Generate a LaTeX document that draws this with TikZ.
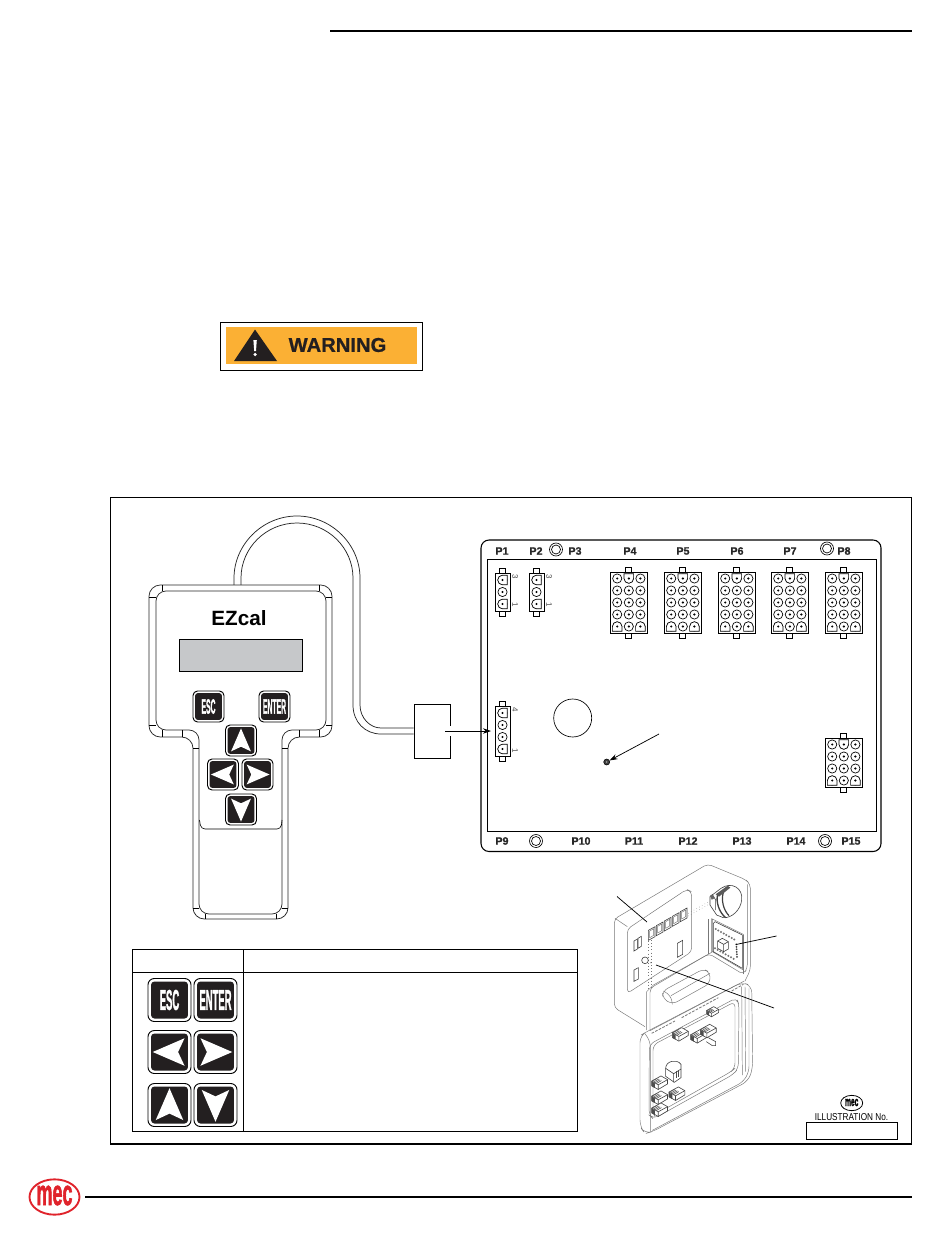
\documentclass[tikz,border=0pt]{standalone}
\usepackage{fontspec}
\usepackage{graphicx}
\setmainfont{Liberation Sans}
\newfontfamily\heavyfont[BoldFeatures={FakeBold=2}]{Liberation Sans}
\newfontfamily\semifont[BoldFeatures={FakeBold=.8}]{Liberation Sans}
\usetikzlibrary{arrows.meta,calc,shapes.geometric}
\definecolor{mecred}{HTML}{E0232B}
\definecolor{warnorange}{HTML}{FBB034}
\definecolor{warnblack}{HTML}{231F20}
\definecolor{lcdgray}{HTML}{C6C8CA}
\definecolor{isogray}{HTML}{777777}
\tikzset{
  rule/.style={line width=1.5pt,black},
  frame/.style={line width=1pt,black},
  body/.style={line width=.55pt,black!85},
  thin line/.style={line width=.45pt,black},
  pinline/.style={line width=.5pt,black},
  iso/.style={line width=.35pt,isogray},
  isod/.style={line width=.45pt,black!75},
  lead/.style={line width=.55pt,black},
  arrowlead/.style={line width=.55pt,black,-{Stealth[length=6pt,width=4pt]}},
  plabel/.style={font=\fontsize{8}{8}\selectfont\semifont\bfseries,text=black!85,inner sep=0pt},
  pinnum/.style={font=\fontsize{6}{6}\selectfont,inner sep=0pt,rotate=-90,text=black!70},
  btnlabel/.style={inner sep=0pt,text=white}
}
\newcommand{\pinR}[2]{\draw[pinline,fill=white] (#1,#2) circle[radius=4.6];\fill (#1,#2) circle[radius=1.2];}
% D-shaped pin: #3 rotation
\newcommand{\pinD}[3]{\begin{scope}[shift={(#1,#2)},rotate=#3]
  \draw[pinline,fill=white] (-4.8,0) .. controls (-4.8,-2.6) and (-2.6,-4.8) .. (0,-4.8) .. controls (2.6,-4.8) and (4.8,-2.6) .. (4.8,0) -- (4.8,4.8) -- (-4.8,4.8) -- cycle;
  \end{scope}\fill (#1,#2) circle[radius=1.2];}
% 3-column connector: left x, top y, rows
\newcommand{\conTri}[3]{
  \pgfmathsetmacro{\conB}{#2+12*#3+1}
  \pgfmathsetmacro{\conC}{#1+18.8}
  \draw[pinline,fill=white] (\conC-3,#2-5) rectangle (\conC+3,#2);
  \draw[pinline,fill=white] (\conC-3,\conB) rectangle (\conC+3,\conB+5);
  \draw[line width=.65pt,fill=white] (#1,#2) rectangle (#1+37.6,\conB);
  \pgfmathtruncatemacro{\conN}{#3-1}
  \foreach \r in {0,...,\conN}{\foreach \c in {0,1,2}{
    \pgfmathsetmacro{\px}{#1+7.2+11.6*\c}\pgfmathsetmacro{\py}{#2+6.5+12*\r}
    \pinR{\px}{\py}}}
  \pinD{\conC}{#2+6.5}{180}
  \pgfmathsetmacro{\py}{#2+6.5+12*\conN}
  \pinD{#1+7.2}{\py}{0}\pinD{#1+30.4}{\py}{0}
}
% 1-column connector: left x, top y, rows
\newcommand{\conOne}[3]{
  \pgfmathsetmacro{\conB}{#2+12*#3+2}
  \draw[pinline,fill=white] (#1+4.5,#2-5) rectangle (#1+10.5,#2);
  \draw[pinline,fill=white] (#1+4.5,\conB) rectangle (#1+10.5,\conB+5);
  \draw[line width=.65pt,fill=white] (#1,#2) rectangle (#1+15,\conB);
  \pgfmathtruncatemacro{\conN}{#3-1}
  \foreach \r in {0,...,\conN}{\pgfmathsetmacro{\py}{#2+7+12*\r}\pinR{#1+7.5}{\py}}
  \pinD{#1+7.5}{#2+7}{90}
  \pgfmathsetmacro{\py}{#2+7+12*\conN}
  \pinD{#1+7.5}{\py}{90}
}
% keypad button: cx,cy,size,name,content
\newcommand{\kbtn}[5]{\begin{scope}[shift={(#1,#2)},scale=#3]
  \draw[line width=.7pt,fill=white,rounded corners=#3*.11pt] (-.5,-.5) rectangle (.5,.5);
  \fill[warnblack,rounded corners=#3*.06pt] (-.43,-.43) rectangle (.43,.43);
  #5
  \end{scope}}
\newcommand{\ktext}[3]{\pgfmathsetmacro{\fs}{#1*.5}\node[btnlabel] (#2) at (0,0) {\scalebox{.33}[1]{\fontsize{\fs}{\fs}\selectfont\heavyfont\bfseries #3}};}
\newcommand{\aU}{\fill[white] (0,-.39) -- (.32,.35) -- (0,.2) -- (-.32,.35) -- cycle;}
\newcommand{\aD}{\fill[white] (0,.39) -- (.32,-.35) -- (0,-.2) -- (-.32,-.35) -- cycle;}
\newcommand{\aL}{\fill[white] (-.39,0) -- (.35,.32) -- (.2,0) -- (.35,-.32) -- cycle;}
\newcommand{\aR}{\fill[white] (.39,0) -- (-.35,.32) -- (-.2,0) -- (-.35,-.32) -- cycle;}
% small hatched component in the enclosure: x,y (zoom coords)
\newcommand{\isoconn}[2]{\begin{scope}[shift={(#1,#2)},scale=1.4]
  \draw[isod,fill=white] (0,8) -- (20,-3) -- (34,5) -- (34,14) -- (14,26) -- (0,18) -- cycle;
  \draw[isod] (14,16) -- (34,5) (14,16) -- (14,26) (0,8) -- (14,16);
  \fill[black!70] (0,9) -- (7,13) -- (7,23) -- (0,19) -- cycle;
  \foreach \k in {0,3,6,9}{\draw[line width=.45pt,black!65] (\k,9+\k*.55) -- (\k+12,2+\k*.55);}
  \end{scope}}
\begin{document}
\begin{tikzpicture}[x=.75pt,y=-.75pt]
\useasboundingbox (0,0) rectangle (950,1241);
\fill[white] (0,0) rectangle (950,1241);
% page rules
\coordinate (ruleA) at (330,31); \coordinate (ruleB) at (912,31);
\draw[rule] (ruleA) -- (ruleB);
\coordinate (ruleC) at (85,1197); \coordinate (ruleD) at (912,1197);
\draw[line width=1.1pt] (ruleC) -- (ruleD);
% warning
\draw[line width=.55pt,fill=white] (220,322) rectangle (422,370);
\fill[warnorange] (226,327) rectangle (417,364);
\fill[warnblack] (234,361) -- (255,329.5) -- (277,361) -- cycle;
\fill[white] (253.4,340) -- (256.8,340) -- (256,351) -- (254.2,351) -- cycle;
\fill[white] (255.1,354.5) circle[radius=1.8];
\node[inner sep=0pt,text=warnblack] (warn) at (337.5,345) {\scalebox{1.01}[1]{\fontsize{15}{15}\selectfont\semifont\bfseries WARNING}};
% frame
\draw[frame] (110.5,497.5) rectangle (911.5,1144);
% cable
\coordinate (cabU) at (381,728); \coordinate (cabL) at (381,734);
\node[draw,line width=.6pt,minimum width=27pt,minimum height=40.5pt,inner sep=0pt] (box) at (432,731) {};
\draw[body] (234,585) -- (234,578) .. controls (234,545) and (262,516) .. (297,516) .. controls (332,516) and (360,545) .. (360,578) -- (360,705) .. controls (360,718) and (370,728) .. (cabU) -- (cabU -| box.west);
\draw[body] (241,591) -- (241,578) .. controls (241,548) and (266,523) .. (297,523) .. controls (328,523) and (353,548) .. (353,578) -- (353,705) .. controls (353,722) and (365,734) .. (cabL) -- (cabL -| box.west);
% handset
\draw[body,rounded corners=8.5pt,fill=white] (149,585) -- (332,585) -- (332,737) -- (288,737) -- (288,919) -- (193,919) -- (193,737) -- (149,737) -- cycle;
\draw[body,rounded corners=7.5pt] (156,591) -- (326,591) -- (326,730) -- (282,730) -- (282,914) -- (199,914) -- (199,730) -- (156,730) -- cycle;
\draw[thin line] (162,585)--(162,591) (149,597)--(156,597) (319,585)--(319,591) (326,597)--(332,597)
  (149,725)--(156,725) (162,730)--(162,737) (182,730)--(182,737) (193,748)--(199,748)
  (326,725)--(332,725) (319,730)--(319,737) (299,730)--(299,737) (282,748)--(288,748)
  (193,908)--(199,908) (205,914)--(205,919) (276,914)--(276,919) (282,908)--(288,908);
\draw[thin line,rounded corners=3pt] (199.5,820) -- (201,829) -- (281,829) -- (282,820);
\node[inner sep=0pt] (ezcal) at (239,618) {\fontsize{15.5}{16}\selectfont\bfseries EZcal};
\draw[line width=.35pt,fill=lcdgray] (179,639) rectangle (302,671);
\kbtn{208.5}{706.5}{31}{escA}{\ktext{31}{escAt}{ESC}}
\kbtn{274.5}{706.5}{31}{entA}{\ktext{31}{entAt}{ENTER}}
\kbtn{241}{740.5}{31}{upA}{\aU}
\kbtn{223}{774.5}{31}{leftA}{\aL}
\kbtn{257.5}{774.5}{31}{rightA}{\aR}
\kbtn{241}{809.5}{31}{downA}{\aD}
% board
\draw[line width=.8pt,rounded corners=6pt] (481,540) rectangle (881,851.5);
\draw[line width=.7pt] (487,559) rectangle (876,831);
\node[plabel] (lP1) at (502,551) {P1};
\node[plabel] (lP2) at (536,551) {P2};
\node[plabel] (lP3) at (575,551) {P3};
\node[plabel] (lP4) at (630,551) {P4};
\node[plabel] (lP5) at (683,551) {P5};
\node[plabel] (lP6) at (737,551) {P6};
\node[plabel] (lP7) at (790,551) {P7};
\node[plabel] (lP8) at (844,551) {P8};
\node[plabel] (lP9) at (502,841) {P9};
\node[plabel] (lP10) at (581,841) {P10};
\node[plabel] (lP11) at (634,841) {P11};
\node[plabel] (lP12) at (688,841) {P12};
\node[plabel] (lP13) at (742,841) {P13};
\node[plabel] (lP14) at (796,841) {P14};
\node[plabel] (lP15) at (851,841) {P15};
\foreach \cx/\cy in {556/549.5,827/548.5,536/841,825/841}{
  \draw[line width=.5pt] (\cx,\cy) circle[radius=6.5];
  \draw[line width=.5pt] (\cx,\cy) circle[radius=4.5];
}
\conOne{495}{573}{3}
\conOne{529}{573}{3}
\conOne{495}{706}{4}
\node[pinnum] (n3a) at (515,577) {3};
\node[pinnum] (n1a) at (515,605) {1};
\node[pinnum] (n3b) at (549,577) {3};
\node[pinnum] (n1b) at (549,605) {1};
\node[pinnum] (n4c) at (515,710) {4};
\node[pinnum] (n1c) at (515,751) {1};
\conTri{610}{572}{5}
\conTri{664}{572}{5}
\conTri{718}{572}{5}
\conTri{771}{572}{5}
\conTri{825}{572}{5}
\conTri{825}{738}{4}
\draw[line width=.5pt] (572.7,718) circle[radius=19];
\node[circle,fill=black!75,draw=black,line width=.4pt,minimum size=4.5pt,inner sep=0pt] (dot) at (606.7,762) {};
\fill[white] (606.7,762) circle[radius=.7];
\coordinate (dotfrom) at (659,734);
\draw[arrowlead] (dotfrom) -- (dot);
% lead from box to connector
\fill[white] (448,726) rectangle (452,736);
\coordinate (boxlead) at (445,731); \coordinate (conlead) at (491,731);
\draw[arrowlead] (boxlead) -- (conlead);
% table
\draw[line width=.7pt] (132,949) rectangle (577,1131);
\coordinate (tabA) at (132,972); \coordinate (tabB) at (577,972);
\coordinate (tabC) at (243.5,949); \coordinate (tabD) at (243.5,1131);
\draw[line width=.7pt] (tabA) -- (tabB) (tabC) -- (tabD);
\kbtn{169.5}{1000}{43}{escB}{\ktext{43}{escBt}{ESC}}
\kbtn{215.5}{1000}{43}{entB}{\ktext{43}{entBt}{ENTER}}
\kbtn{169.5}{1052}{43}{leftB}{\aL}
\kbtn{215.5}{1052}{43}{rightB}{\aR}
\kbtn{169.5}{1105}{43}{upB}{\aU}
\kbtn{215.5}{1105}{43}{downB}{\aD}
% isometric enclosure (zoom coordinates)
\begin{scope}[shift={(595,855)},scale=1/3]
  % upper housing
  \draw[iso,rounded corners=3pt] (150,515) -- (58,458) -- (58,192) -- (338,27) -- (452,74) -- (466,88) -- (466,345) -- (450,378);
  \draw[iso] (60,190) -- (97,215);
  \draw[iso,rounded corners=3pt] (97,415) -- (97,222) -- (275,103) -- (290,110) -- (290,290) -- cycle;
  \draw[iso,rounded corners=3pt] (457,88) -- (457,340) -- (445,358) -- (342,296) -- (165,400) -- (165,527);
  \draw[iso] (155,525) -- (155,410) -- (175,390) -- (350,292) -- (350,190);
  \draw[iso] (340,298) -- (340,192) (445,358) -- (445,240);
  \draw[iso] (165,527) -- (448,378);
  \draw[iso] (352,192) -- (445,238) -- (445,345) -- (352,290) -- cycle;
  % block
  \draw[iso,fill=white,rounded corners=4pt] (203,408) -- (325,342) -- (345,352) -- (345,385) -- (232,448) -- (203,430) -- cycle;
  \draw[iso,rounded corners=4pt] (205,408) -- (228,422) -- (232,448) (228,422) -- (345,355);
  % relay row
  \foreach \k in {0,1,2,3,4}{
    \begin{scope}[shift={(160+\k*24,226-\k*14)}]
      \draw[isod,fill=white] (0,0) -- (0,30) -- (20,19) -- (20,-11) -- cycle;
      \draw[iso] (4,2) -- (4,22) -- (16,15) -- (16,-5) -- cycle;
    \end{scope}}
  \draw[iso,dotted] (280,183) -- (345,146) (280,175) -- (345,138);
  \draw[iso,dotted] (160,258) -- (160,405) (168,255) -- (168,400);
  % small parts on the panel
  \draw[isod] (117,258) -- (127,252) -- (127,282) -- (117,288) -- cycle;
  \draw[isod] (129,250) -- (139,244) -- (139,274) -- (129,280) -- cycle;
  \draw[isod] (117,345) -- (130,338) -- (130,372) -- (117,379) -- cycle;
  \draw[isod] (247,265) -- (263,256) -- (263,298) -- (247,307) -- cycle;
  \draw[isod] (150,316) circle[radius=10];
  \fill[black!70] (168,323) circle[radius=2];
  % motor
  \draw[isod,fill=white] (345,125) -- (378,100) .. controls (410,78) and (445,100) .. (440,135) .. controls (437,165) and (410,190) .. (385,188) -- (365,180) -- (345,150) -- cycle;
  \draw[isod] (352,118) -- (362,135) -- (362,165);
  \draw[line width=1pt,black!75] (368,118) .. controls (362,140) and (372,172) .. (392,188);
  \draw[line width=.9pt,black!75] (385,112) .. controls (378,135) and (385,165) .. (402,182);
  \fill[black!65] (362,118) -- (398,92) -- (406,98) -- (372,125) -- cycle;
  \fill[black!60] (345,122) -- (352,118) -- (358,130) -- (350,134) -- cycle;
  % PCB module
  \draw[isod,fill=white] (355,205) -- (360,200) -- (442,240) -- (442,340) -- (355,290) -- cycle;
  \foreach \k in {0,...,7}{
    \fill[black!55] (362+\k*8,222+\k*4.5) circle[radius=3.4];
    \fill[black!55] (360+\k*8,280+\k*4.5) circle[radius=3.4];
  }
  \foreach \k in {0,...,5}{\fill[black!75] (424+\k*.4,268+\k*7.5) circle[radius=3];}
  \draw[isod,fill=white] (368,258) -- (382,250) -- (400,260) -- (400,282) -- (386,290) -- (368,280) -- cycle;
  \draw[isod] (368,258) -- (386,268) -- (400,260) (386,268) -- (386,290);
  % door
  \draw[iso,rounded corners=5pt] (135,542) -- (155,530) -- (440,382) -- (470,392) -- (473,640) -- (460,678) -- (172,830) -- (150,836) -- (135,815) -- cycle;
  \draw[iso,rounded corners=4pt] (150,536) -- (166,560) -- (166,830);
  \draw[iso,rounded corners=4pt] (163,568) -- (425,428) -- (432,450) -- (430,640) -- (415,658) -- (175,792) -- (162,780) -- cycle;
  \draw[iso,rounded corners=4pt] (174,570) -- (420,440) -- (420,640) -- (408,650) -- (178,780) -- (174,770) -- cycle;
  \draw[iso,rounded corners=4pt] (172,826) -- (445,680) -- (462,650) -- (462,400);
  \draw[iso] (450,395) -- (452,650) (440,395) -- (442,660);
  \draw[line width=.6pt,isogray,dash pattern=on 2pt off 1pt] (170,535) -- (240,498) (260,488) -- (370,428) (410,408) -- (445,388);
  % door components
  \draw[isod,fill=white] (340,548) -- (362,560) -- (362,572) -- (352,572) -- (334,560);
  \isoconn{232}{522}
  \isoconn{287}{528}
  \isoconn{316}{512}
  \begin{scope}[shift={(335,458)},scale=.75]\isoconn{0}{0}\end{scope}
  \draw[isod,fill=white] (212,640) .. controls (212,618) and (245,610) .. (258,628) -- (258,668) -- (238,682) -- (212,664) -- cycle;
  \draw[isod] (212,640) -- (236,656) -- (258,642) (236,656) -- (236,682);
  \draw[line width=.8pt,black!70] (245,648) -- (245,668) (250,645) -- (250,665);
  \isoconn{170}{667}
  \isoconn{170}{712}
  \isoconn{170}{748}
  \isoconn{222}{700}
\end{scope}
% leader lines
\coordinate (ledA1) at (617,896.5); \coordinate (ledA2) at (647,922);
\draw[lead] (ledA1) -- (ledA2);
\coordinate (ledB1) at (776.5,936); \coordinate (ledB2) at (736,944.5);
\draw[lead] (ledB1) -- (ledB2);
\coordinate (ledC1) at (774,1008); \coordinate (ledC2) at (656,965);
\draw[lead] (ledC1) -- (ledC2);
% illustration box
\node[draw,line width=.6pt,ellipse,minimum width=16.5pt,minimum height=11.5pt,inner sep=0pt] (logoS) at (851.7,1103) {};
\node[inner sep=0pt] (logoSt) at (851.7,1102.5) {\scalebox{.5}[1]{\fontsize{10}{10}\selectfont\heavyfont\bfseries mec}};
\node[inner sep=0pt] (illus) at (851.5,1117) {\scalebox{.82}[1]{\fontsize{7.5}{8}\selectfont ILLUSTRATION No.}};
\draw[line width=.6pt] (806,1122) rectangle (897,1139);
% logo
\node[draw=mecred,line width=1.4pt,ellipse,minimum width=37.5pt,minimum height=26.5pt,inner sep=0pt] (logo) at (54.5,1197) {};
\node[inner sep=0pt,text=mecred] (logot) at (54.5,1195.5) {\scalebox{.5}[1]{\fontsize{27}{27}\selectfont\heavyfont\bfseries mec}};
\end{tikzpicture}
\end{document}
